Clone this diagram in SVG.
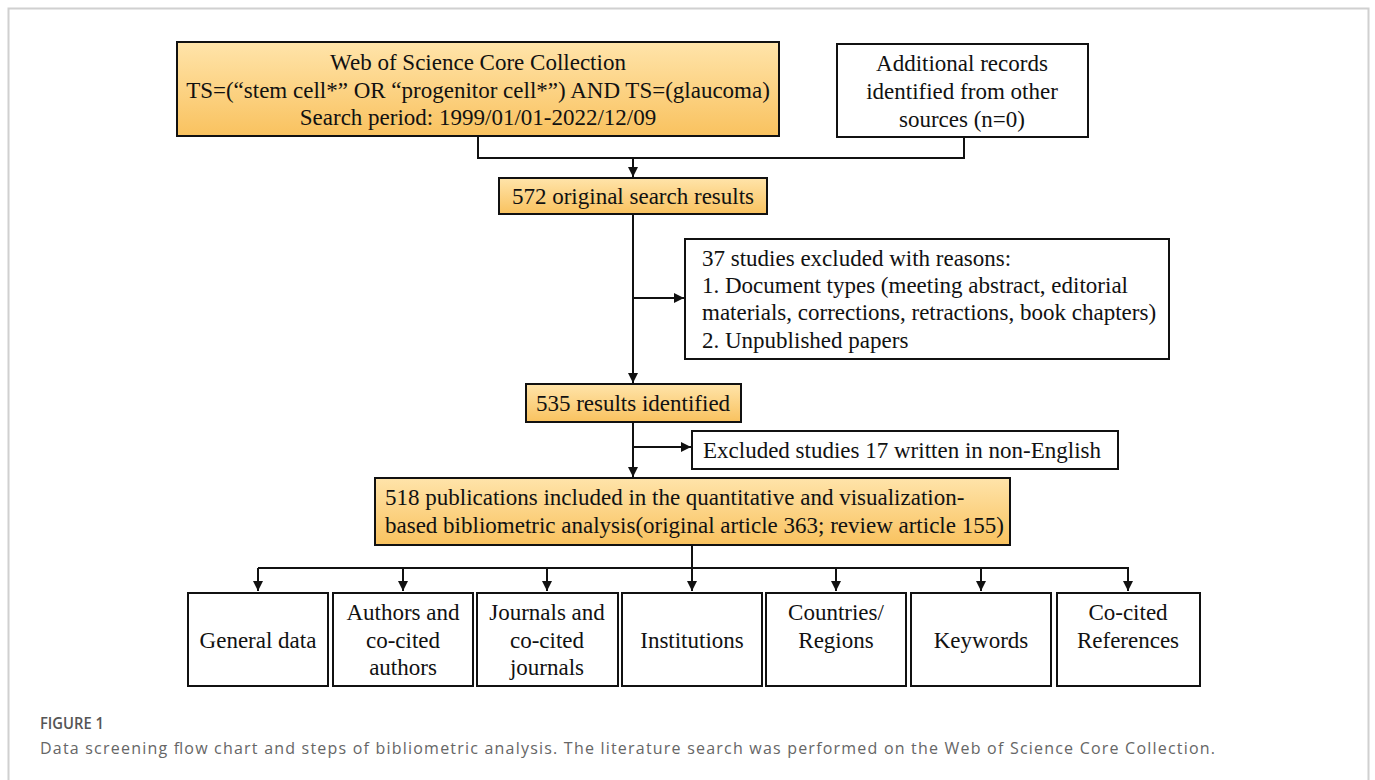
<svg xmlns="http://www.w3.org/2000/svg" width="1375" height="780" viewBox="0 0 1375 780">
<style>
.box{stroke:#111;stroke-width:2}
.or{fill:url(#og)}
.wh{fill:#fff}
.t{font-family:"Liberation Serif","Times New Roman",serif;font-size:23px;fill:#111}
.c{text-anchor:middle}
.ln{fill:none;stroke:#111;stroke-width:2}
.cap1{font-family:"Open Sans","Noto Sans",sans-serif;font-size:17px;fill:#555;font-weight:600}
.cap2{font-family:"Open Sans","Noto Sans",sans-serif;font-size:16px;fill:#666}
</style>
<defs>
<linearGradient id="og" x1="0" y1="0" x2="0" y2="1">
<stop offset="0" stop-color="#FFE4AA"/>
<stop offset="1" stop-color="#F9C25F"/>
</linearGradient>
<marker id="ah" viewBox="0 0 10 10" refX="10" refY="5" markerWidth="5" markerHeight="5" orient="auto" markerUnits="strokeWidth">
<path d="M0,0 L10,5 L0,10 z" fill="#111"/>
</marker>
</defs>
<rect width="1375" height="780" fill="#fff"/>
<path d="M8.5,790 V8.5 H1368.5 V790" fill="none" stroke="#d0d0d0" stroke-width="2"/>

<g id="connectors">
<path class="ln" d="M478,136 V158 H964 V137"/>
<path class="ln" d="M633,158 V177" marker-end="url(#ah)"/>
<path class="ln" d="M633,214 V383" marker-end="url(#ah)"/>
<path class="ln" d="M633,298 H684" marker-end="url(#ah)"/>
<path class="ln" d="M633,422 V477" marker-end="url(#ah)"/>
<path class="ln" d="M633,447 H691" marker-end="url(#ah)"/>
<path class="ln" d="M692,545 V568"/>
<path class="ln" d="M258,568 H1129"/>
<path class="ln" d="M258,568 V591" marker-end="url(#ah)"/>
<path class="ln" d="M403,568 V591" marker-end="url(#ah)"/>
<path class="ln" d="M547,568 V591" marker-end="url(#ah)"/>
<path class="ln" d="M692,568 V591" marker-end="url(#ah)"/>
<path class="ln" d="M836,568 V591" marker-end="url(#ah)"/>
<path class="ln" d="M981,568 V591" marker-end="url(#ah)"/>
<path class="ln" d="M1128,568 V591" marker-end="url(#ah)"/>
</g>

<g id="wos">
<rect class="box or" x="177" y="42" width="602" height="94"/>
<text class="t c" x="478" y="70">Web of Science Core Collection</text>
<text class="t c" x="478" y="98">TS=(“stem cell*” OR “progenitor cell*”) AND TS=(glaucoma)</text>
<text class="t c" x="478" y="125">Search period: 1999/01/01-2022/12/09</text>
</g>

<g id="additional">
<rect class="box wh" x="837" y="44" width="251" height="93"/>
<text class="t c" x="962" y="71">Additional records</text>
<text class="t c" x="962" y="99">identified from other</text>
<text class="t c" x="962" y="127">sources (n=0)</text>
</g>

<g id="n572">
<rect class="box or" x="499" y="178" width="268" height="36"/>
<text class="t c" x="633" y="204">572 original search results</text>
</g>

<g id="excluded37">
<rect class="box wh" x="685" y="239" width="484" height="120"/>
<text class="t" x="702" y="266">37 studies excluded with reasons:</text>
<text class="t" x="702" y="293">1. Document types (meeting abstract, editorial</text>
<text class="t" x="702" y="320">materials, corrections, retractions, book chapters)</text>
<text class="t" x="702" y="348">2. Unpublished papers</text>
</g>

<g id="n535">
<rect class="box or" x="526" y="384" width="215" height="38"/>
<text class="t c" x="633" y="411">535 results identified</text>
</g>

<g id="excluded17">
<rect class="box wh" x="692" y="431" width="426" height="38"/>
<text class="t" x="703" y="458">Excluded studies 17 written in non-English</text>
</g>

<g id="n518">
<rect class="box or" x="375" y="478" width="635" height="67"/>
<text class="t" x="385" y="505">518 publications included in the quantitative and visualization-</text>
<text class="t" x="385" y="533">based bibliometric analysis(original article 363; review article 155)</text>
</g>

<g id="general">
<rect class="box wh" x="188" y="593" width="140" height="93"/>
<text class="t c" x="258" y="648">General data</text>
</g>
<g id="authors">
<rect class="box wh" x="333" y="593" width="140" height="93"/>
<text class="t c" x="403" y="620">Authors and</text>
<text class="t c" x="403" y="648">co-cited</text>
<text class="t c" x="403" y="675">authors</text>
</g>
<g id="journals">
<rect class="box wh" x="477" y="593" width="141" height="93"/>
<text class="t c" x="547" y="620">Journals and</text>
<text class="t c" x="547" y="648">co-cited</text>
<text class="t c" x="547" y="675">journals</text>
</g>
<g id="institutions">
<rect class="box wh" x="622" y="593" width="140" height="93"/>
<text class="t c" x="692" y="648">Institutions</text>
</g>
<g id="countries">
<rect class="box wh" x="766" y="593" width="140" height="93"/>
<text class="t c" x="836" y="620">Countries/</text>
<text class="t c" x="836" y="648">Regions</text>
</g>
<g id="keywords">
<rect class="box wh" x="911" y="593" width="140" height="93"/>
<text class="t c" x="981" y="648">Keywords</text>
</g>
<g id="cocited">
<rect class="box wh" x="1057" y="593" width="143" height="93"/>
<text class="t c" x="1128" y="620">Co-cited</text>
<text class="t c" x="1128" y="648">References</text>
</g>

<g id="caption">
<text class="cap1" x="40" y="729" textLength="64" lengthAdjust="spacingAndGlyphs">FIGURE 1</text>
<text class="cap2" x="40" y="754" textLength="1175" lengthAdjust="spacing">Data screening flow chart and steps of bibliometric analysis. The literature search was performed on the Web of Science Core Collection.</text>
</g>
</svg>
